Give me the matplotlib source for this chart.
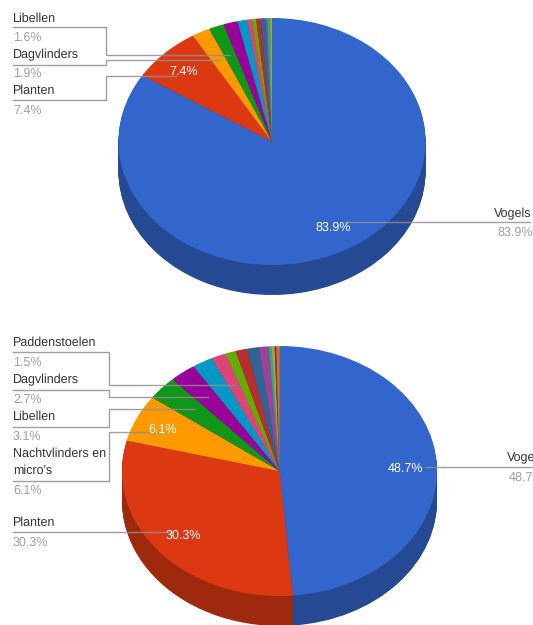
import matplotlib
matplotlib.use('Agg')
import matplotlib.pyplot as plt
import matplotlib.colors as mcolors

plt.rcParams['font.family'] = ['Liberation Sans', 'DejaVu Sans']
plt.rcParams['text.hinting'] = 'none'

W, H = 533, 625

colors = ['#3366cc', '#dc3912', '#ff9900', '#109618', '#990099', '#0099c6', '#dd4477',
          '#66aa00', '#b82e2e', '#316395', '#994499', '#22aa99', '#aaaa11', '#6633cc', '#e67300']

top_values = [83.9, 7.4, 1.9, 1.6, 1.5, 1.0, 0.5, 0.45, 0.45, 0.5, 0.2, 0.3, 0.2]
bottom_values = [48.7, 30.3, 6.1, 3.1, 2.7, 2.1, 1.5, 1.1, 1.2, 1.2, 1.0, 0.3, 0.3, 0.2, 0.3]

# name lines, percent, text x, y of each line
top_labels = [
    ('Libellen', 18, '1.6%', 37),
    ('Dagvlinders', 54, '1.9%', 73),
    ('Planten', 90, '7.4%', 110),
]
bottom_labels = [
    ('Paddenstoelen', 342, '1.5%', 362),
    ('Dagvlinders', 379, '2.7%', 399),
    ('Libellen', 416, '3.1%', 436),
    ('Nachtvlinders en', 453, None, None),
    ("micro's", 470, '6.1%', 490),
    ('Planten', 522, '30.3%', 542),
]

top_leaders = [
    ([13, 106, 106, 230], [27, 27, 55, 55]),
    ([13, 106, 106, 220], [64.5, 64.5, 60, 60]),
    ([13, 106, 106, 176], [100, 100, 75.5, 75.5]),
    ([345, 530], [222, 222]),
]
bottom_leaders = [
    ([13, 109, 109, 235], [352, 352, 385, 385]),
    ([13, 109, 109, 208], [390, 390, 397, 397]),
    ([13, 109, 109, 195], [427, 427, 409, 409]),
    ([13, 109, 109, 165], [481, 481, 432, 432]),
    ([13, 170], [532, 532]),
    ([425, 533], [467, 467]),
]


def pie3d(values, cx, cy, rx, ry, depth):
    ax = fig.add_axes([(cx - rx) / W, 1 - (cy + ry + depth + 1) / H, 2 * rx / W, (2 * ry + depth + 2) / H])
    dark = [tuple(c * 0.72 for c in mcolors.to_rgb(col)) for col in colors[:len(values)]]
    for k in range(depth, 0, -1):
        ax.pie(values, colors=dark, startangle=90, counterclock=False, radius=1,
               center=(0, -k / ry), frame=False, wedgeprops={'linewidth': 0.5, 'edgecolor': 'none'})
    ax.pie(values, colors=colors[:len(values)], startangle=90, counterclock=False, radius=1,
           center=(0, 0), frame=False, wedgeprops={'linewidth': 0})
    ax.set_aspect('auto')
    ax.set_xlim(-1, 1)
    ax.set_ylim(-1 - (depth + 1) / ry, 1 + 1 / ry)
    ax.axis('off')
    for p in ax.patches:
        p.set_clip_on(False)


fig = plt.figure(figsize=(W / 100, H / 100), dpi=100)

pie3d(top_values, 272, 141.5, 153.5, 123.5, 30)
pie3d(bottom_values, 279.5, 471, 157.5, 125, 30)

overlay = fig.add_axes([0, 0, 1, 1], zorder=5)
overlay.set_xlim(0, W)
overlay.set_ylim(H, 0)
overlay.axis('off')

for xs, ys in top_leaders + bottom_leaders:
    overlay.plot(xs, ys, color='#8f8f8f', lw=1, alpha=0.85, solid_joinstyle='miter')

for name, y, pct, py in top_labels + bottom_labels:
    overlay.text(13, y + 1, name, color='#333333', fontsize=9, va='center', ha='left')
    if pct:
        overlay.text(13, py + 0.5, pct, color='#a0a0a0', fontsize=9, va='center', ha='left')

overlay.text(494, 214, 'Vogels', color='#333333', fontsize=9, va='center', ha='left')
overlay.text(497, 232.5, '83.9%', color='#a0a0a0', fontsize=9, va='center', ha='left')
overlay.text(507, 458, 'Vogels', color='#333333', fontsize=9, va='center', ha='left', clip_on=True)
overlay.text(509, 477.5, '48.7%', color='#a0a0a0', fontsize=9, va='center', ha='left', clip_on=True)

# percent labels on the slices
for x, y, s in [(184, 71.5, '7.4%'), (333, 227.5, '83.9%'), (405, 468.5, '48.7%'),
                (183, 535.5, '30.3%'), (163, 429.5, '6.1%')]:
    overlay.text(x, y, s, color='white', fontsize=9, va='center', ha='center')

fig.savefig('out.png', dpi=100)
